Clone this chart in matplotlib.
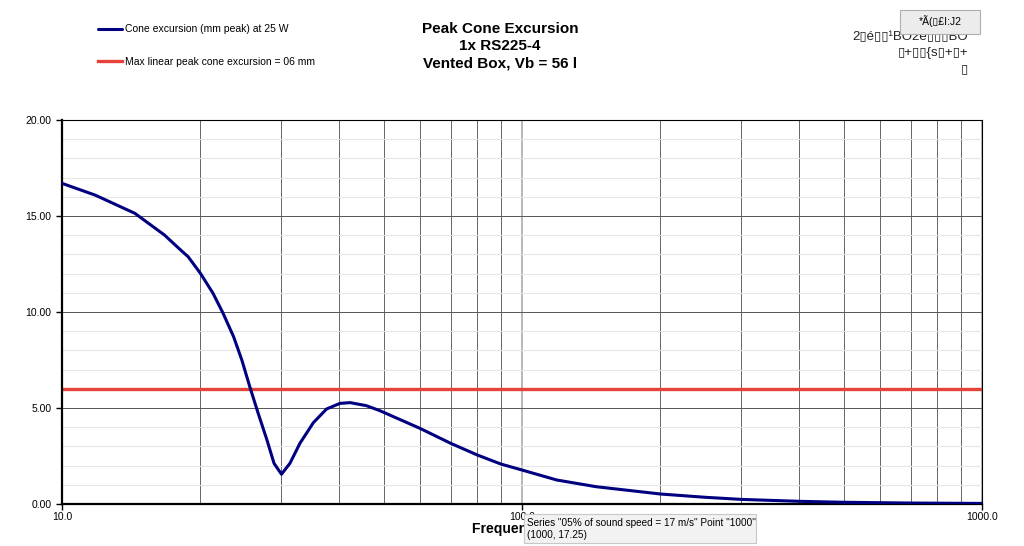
import matplotlib.pyplot as plt
from matplotlib.ticker import FixedLocator, NullFormatter
from matplotlib.patches import Rectangle

plt.rcParams['font.family'] = ['Liberation Sans', 'DejaVu Sans']

# excursion values (Hz, mm peak)
freq = [10.0, 11.8, 14.4, 16.7, 18.05, 18.8, 20.0, 21.3, 22.4, 23.6, 24.6,
        25.6, 26.7, 27.9, 28.9, 30.0, 31.3, 32.9, 35.2, 37.6, 40.2, 42.3, 45.9,
        49.1, 60.0, 70.0, 80.0, 90.0, 100.0, 119.0, 145.0, 200.0, 250.0, 300.0,
        400.0, 500.0, 700.0, 1000.0]
excursion = [16.70, 16.09, 15.14, 14.01, 13.26, 12.88, 12.01, 10.97, 9.93, 8.72, 7.5,
             6.11, 4.72, 3.33, 2.12, 1.55, 2.12, 3.16, 4.24, 4.95, 5.24, 5.28, 5.12,
             4.86, 3.94, 3.16, 2.55, 2.08, 1.77, 1.25, 0.90, 0.52, 0.35, 0.24,
             0.14, 0.09, 0.05, 0.03]
xmax_limit = 6.0

x_ticks = [10, 100, 1000]
x_ticklabels = ["10.0", "100.0", "1000.0"]
y_ticks = [0, 5, 10, 15, 20]
y_ticklabels = ["0.00", "5.00", "10.00", "15.00", "20.00"]

title = "Peak Cone Excursion\n1x RS225-4\nVented Box, Vb = 56 l"
label_cone = "Cone excursion (mm peak) at 25 W"
label_max = "Max linear peak cone excursion = 06 mm"

fig = plt.figure(figsize=(10.24, 5.46), dpi=100)
ax = fig.add_axes([62/1024, 42/546, 920/1024, 384/546])

ax.set_xscale('log')
ax.set_xlim(10, 1000)
ax.set_ylim(0, 20)

# grid
minor_x = [v * d for d in (10, 100) for v in range(2, 10)]
ax.xaxis.set_major_locator(FixedLocator(x_ticks))
ax.xaxis.set_minor_locator(FixedLocator(minor_x))
ax.xaxis.set_minor_formatter(NullFormatter())
ax.set_xticklabels(x_ticklabels)
ax.set_yticks(y_ticks)
ax.set_yticklabels(y_ticklabels)
ax.yaxis.set_minor_locator(FixedLocator([v for v in range(1, 20) if v % 5]))

ax.grid(which='major', axis='y', color='#555555', lw=0.7)
ax.grid(which='minor', axis='y', color='#e6e6e6', lw=0.8)
ax.grid(which='major', axis='x', color='#aaaaaa', lw=1.2)
ax.grid(which='minor', axis='x', color='#666666', lw=0.7)
ax.set_axisbelow(True)

ax.tick_params(which='major', direction='out', length=4, width=1, labelsize=7.5, color='black')
ax.tick_params(which='minor', length=0)
ax.tick_params(axis='x', pad=2)
for s in ax.spines.values():
    s.set_color('black')
    s.set_linewidth(0.8)
ax.spines['left'].set_linewidth(1.6)
ax.spines['bottom'].set_linewidth(1.6)

ax.plot(freq, excursion, color='#000080', lw=2.2, label=label_cone, zorder=3,
        solid_joinstyle='round', solid_capstyle='round')
ax.axhline(xmax_limit, color='#e5423a', lw=2.4, label=label_max, zorder=2)

ax.set_xlabel("Frequency (Hz)", fontsize=10, fontweight='bold', labelpad=0)

# legend
fig.legend(loc='upper left', bbox_to_anchor=(94/1024, 1 - 20/546), frameon=False,
           fontsize=7.5, handlelength=2.3, handletextpad=0.3, labelspacing=2.2,
           borderaxespad=0)

fig.text(500/1024, 1 - 46/546, title, ha='center', va='center', fontsize=11,
         fontweight='bold', linespacing=1.3)

# overlay texts from the screenshot
fig.patches.append(Rectangle((900/1024, 1 - 34/546), 80/1024, 24/546, transform=fig.transFigure,
                             facecolor='#ececec', edgecolor='#b0b0b0', lw=0.8, zorder=5))
fig.text(940/1024, 1 - 21/546, "*Ã(▯£I:J2", ha='center', va='center', fontsize=7.5, zorder=6)
fig.text(968/1024, 1 - 37/546, "2▯é▯▯¹BO2e▯▯▯BO", ha='right', va='center', fontsize=9.5, color='#222222')
fig.text(968/1024, 1 - 53/546, "▯+▯▯{s▯+▯+", ha='right', va='center', fontsize=9.5, color='#222222')
fig.text(968/1024, 1 - 69/546, "▯", ha='right', va='center', fontsize=9.5, color='#222222')

fig.patches.append(Rectangle((524/1024, 1 - 543/546), 232/1024, 29/546, transform=fig.transFigure,
                             facecolor='#f2f2f2', edgecolor='#c8c8c8', lw=0.8, zorder=5))
fig.text(527/1024, 1 - 529/546, 'Series "05% of sound speed = 17 m/s" Point "1000"\n(1000, 17.25)',
         ha='left', va='center', fontsize=7.2, zorder=6, linespacing=1.25)

fig.savefig("out.png", dpi=100)
